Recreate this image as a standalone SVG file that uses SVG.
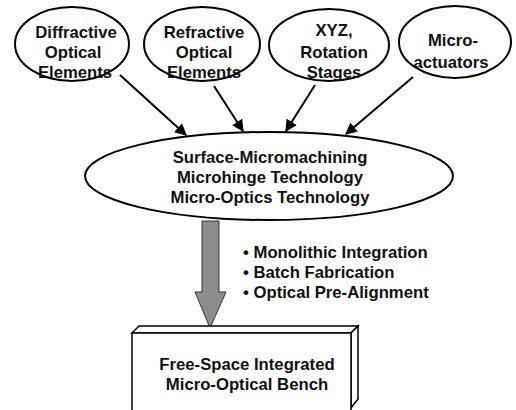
<svg xmlns="http://www.w3.org/2000/svg" width="516" height="410" viewBox="0 0 516 410">
<style>
.n{fill:#fff;stroke:#000;stroke-width:2}
.t{font-family:"Liberation Sans",Arial,sans-serif;font-weight:bold;font-size:16.7px;fill:#111;text-anchor:middle}
.b{font-family:"Liberation Sans",Arial,sans-serif;font-weight:bold;font-size:16.7px;fill:#111}
.c{stroke:#000;stroke-width:2;fill:none;marker-end:url(#ah)}
</style>
<defs>
<marker id="ah" viewBox="0 0 10 10" refX="9" refY="5" markerWidth="6" markerHeight="6" orient="auto" markerUnits="strokeWidth">
<path d="M0,0 L10,5 L0,10 z" fill="#000"/>
</marker>
</defs>
<rect width="516" height="410" fill="#fff"/>
<g id="connectors">
<line class="c" x1="120" y1="75" x2="186" y2="135"/>
<line class="c" x1="214" y1="86" x2="243" y2="131"/>
<line class="c" x1="315" y1="85" x2="286" y2="131"/>
<line class="c" x1="413" y1="77" x2="346" y2="134"/>
<path d="M202,221 L219,221 L219,292 L226,292 L210,328 L195,292 L202,292 Z" fill="#8c8c8c" stroke="#333" stroke-width="1"/>
</g>
<g id="diffractive">
<ellipse class="n" cx="72" cy="44" rx="57" ry="37"/>
<text class="t" x="76" y="38">Diffractive</text>
<text class="t" x="73" y="58">Optical</text>
<text class="t" x="75" y="78">Elements</text>
</g>
<g id="refractive">
<ellipse class="n" cx="202" cy="44" rx="58" ry="37"/>
<text class="t" x="204" y="38">Refractive</text>
<text class="t" x="204" y="58">Optical</text>
<text class="t" x="204" y="78">Elements</text>
</g>
<g id="xyz">
<ellipse class="n" cx="329" cy="45" rx="60" ry="36"/>
<text class="t" x="334" y="36">XYZ,</text>
<text class="t" x="334" y="58">Rotation</text>
<text class="t" x="334" y="78">Stages</text>
</g>
<g id="microactuators">
<ellipse class="n" cx="455" cy="42" rx="56" ry="36"/>
<text class="t" x="453" y="46">Micro-</text>
<text class="t" x="451" y="68">actuators</text>
</g>
<g id="technology">
<ellipse class="n" cx="269" cy="176" rx="184" ry="44"/>
<text class="t" x="270" y="163">Surface-Micromachining</text>
<text class="t" x="270" y="183">Microhinge Technology</text>
<text class="t" x="270" y="203">Micro-Optics Technology</text>
</g>
<g id="benefits">
<text class="b" x="243" y="258">• Monolithic Integration</text>
<text class="b" x="243" y="278">• Batch Fabrication</text>
<text class="b" x="243" y="298">• Optical Pre-Alignment</text>
</g>
<g id="bench">
<path d="M132,333 L139,326 L358,326 L351,333 Z" fill="#fff" stroke="#000" stroke-width="1.5"/>
<path d="M351,333 L358,326 L358,399 L351,408 Z" fill="#fff" stroke="#000" stroke-width="1.5"/>
<rect x="132" y="333" width="219" height="90" fill="#fff" stroke="#000" stroke-width="1.5"/>
<text class="t" x="247" y="370">Free-Space Integrated</text>
<text class="t" x="247" y="390">Micro-Optical Bench</text>
</g>
</svg>
